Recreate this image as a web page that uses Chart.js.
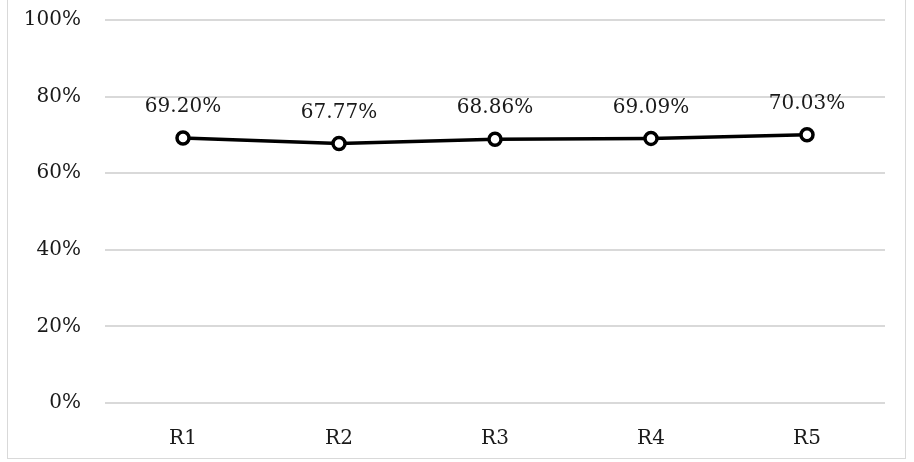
<!DOCTYPE html>
<html>
<head>
<meta charset="utf-8">
<script src="https://cdn.jsdelivr.net/npm/chart.js@4"></script>
<style>
  html, body { margin: 0; padding: 0; background: #fff; }
  #wrap { position: relative; width: 914px; height: 462px; }
  #frame { position: absolute; left: 7px; top: -1px; width: 899px; height: 460px; border: 1px solid #d9d9d9; box-sizing: border-box; pointer-events: none; }
</style>
</head>
<body>
<div id="wrap">
  <canvas id="lineChart" width="914" height="462"></canvas>
  <div id="frame"></div>
</div>
<script>
// chart data
var categories = ['R1', 'R2', 'R3', 'R4', 'R5'];
var rates = [69.20, 67.77, 68.86, 69.09, 70.03];
var yTicks = [0, 20, 40, 60, 80, 100];

var fontFamily = '"DejaVu Serif", serif';

// draws the value above each point
var valueLabels = {
     id: 'valueLabels',
     afterDatasetsDraw: function (chart) {
          var ctx = chart.ctx;
          var meta = chart.getDatasetMeta(0);
          ctx.save();
          ctx.font = '20px ' + fontFamily;
          ctx.fillStyle = '#1a1a1a';
          ctx.textAlign = 'center';
          ctx.textBaseline = 'middle';
          meta.data.forEach(function (pt, i) {
               ctx.fillText(rates[i].toFixed(2) + '%', pt.x, pt.y - 31);
          });
          ctx.restore();
     }
};

var ctxL = document.getElementById('lineChart').getContext('2d');
var lineChart = new Chart(ctxL, {
     type: 'line',
     data: {
          labels: categories,
          datasets: [{
               data: rates,
               borderColor: '#000',
               borderWidth: 3.5,
               pointRadius: 6,
               pointBorderWidth: 3.5,
               pointBackgroundColor: '#fff',
               pointBorderColor: '#000',
               tension: 0
          }]
     },
     options: {
          responsive: false,
          animation: false,
          events: [],
          layout: { padding: { top: 20, right: 29, left: 0, bottom: 0 } },
          plugins: {
               legend: { display: false },
               tooltip: { enabled: false }
          },
          scales: {
               x: {
                    offset: true,
                    grid: { display: false, drawTicks: false },
                    border: { display: false },
                    ticks: { color: '#1a1a1a', font: { family: fontFamily, size: 20 }, padding: 24 },
                    afterFit: function (scale) { scale.height = 59; scale.paddingLeft = 0; scale.paddingRight = 0; }
               },
               y: {
                    min: 0,
                    max: 100,
                    afterBuildTicks: function (scale) {
                         scale.ticks = yTicks.map(function (v) { return { value: v }; });
                    },
                    grid: { color: '#d9d9d9', lineWidth: 2, drawTicks: false },
                    border: { display: false },
                    ticks: {
                         color: '#1a1a1a',
                         font: { family: fontFamily, size: 20 },
                         padding: 24,
                         callback: function (v) { return v + '%'; }
                    },
                    afterFit: function (scale) { scale.width = 105; scale.paddingTop = 0; scale.paddingBottom = 0; }
               }
          }
     },
     plugins: [valueLabels]
});
</script>
</body>
</html>
